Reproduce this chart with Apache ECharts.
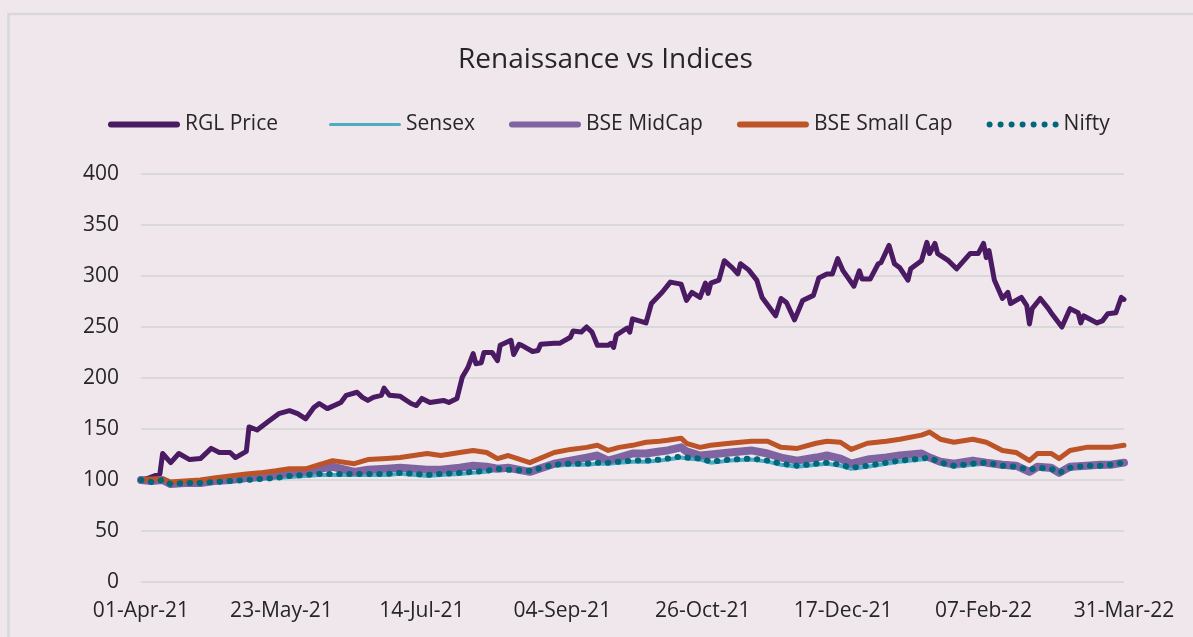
<!DOCTYPE html>
<html>
<head>
<meta charset="utf-8">
<script src="https://cdn.jsdelivr.net/npm/echarts@6/dist/echarts.min.js"></script>
<style>
  html, body { margin: 0; padding: 0; background: #f0e7ec; }
  #main { width: 1193px; height: 637px; }
</style>
</head>
<body>
<div id="main"></div>
<script>
// x tick labels, one every 52 days from 01-Apr-21
const xTickLabels = ['01-Apr-21', '23-May-21', '14-Jul-21', '04-Sep-21', '26-Oct-21', '17-Dec-21', '07-Feb-22', '31-Mar-22'];

// RGL price (days since 01-Apr-21)
const rglDays = [0, 3, 7, 8, 11, 14, 18, 22, 26, 29, 33, 35, 39, 40, 43, 47, 51, 55, 58, 61,
  64, 66, 69, 74, 76, 80, 82, 84, 86, 89, 90, 92, 96, 100, 102, 104, 107, 112, 114, 117,
  119, 121, 123, 124, 126, 127, 130, 132, 133, 137, 138, 140, 141, 145, 147, 148, 153, 155, 159, 160,
  163, 165, 167, 169, 173, 174, 175, 176, 180, 181, 182, 187, 189, 193, 196, 200, 202, 204, 207, 209,
  210, 211, 214, 216, 219, 221, 222, 225, 228, 230, 235, 237, 239, 242, 245, 249, 251, 254, 256, 258,
  260, 264, 266, 267, 270, 273, 274, 277, 279, 281, 284, 285, 289, 291, 292, 294, 295, 299, 302, 307,
  310, 312, 313, 314, 316, 319, 321, 322, 326, 328, 329, 330, 333, 336, 337, 341, 344, 347, 348, 349,
  354, 356, 358, 361, 363, 364];
const rglPrice = [100, 102, 106, 126, 117, 126, 120, 121, 131, 127, 127, 122, 128, 152, 149, 157, 165, 168, 165, 160,
  171, 175, 170, 176, 183, 186, 181, 178, 181, 183, 190, 183, 182, 175, 173, 180, 176, 178, 176, 180,
  201, 210, 224, 214, 215, 225, 225, 217, 232, 237, 223, 233, 232, 226, 227, 233, 234, 234, 240, 246,
  245, 250, 245, 232, 232, 234, 230, 242, 249, 245, 258, 254, 273, 284, 294, 292, 276, 284, 279, 293,
  283, 293, 296, 315, 308, 302, 312, 306, 296, 279, 261, 278, 274, 257, 276, 281, 298, 302, 302, 317,
  305, 290, 305, 297, 297, 312, 313, 330, 312, 308, 296, 307, 315, 333, 322, 332, 322, 315, 307, 322,
  322, 332, 318, 325, 296, 278, 284, 273, 279, 271, 253, 268, 278, 268, 264, 250, 268, 264, 254, 261,
  254, 256, 263, 264, 279, 277];

// indices (days since 01-Apr-21)
const idxDays = [0, 4, 8, 11, 16, 22, 27, 33, 39, 44, 50, 55, 61, 66, 71, 79, 84, 91, 96, 106,
  111, 118, 123, 128, 132, 136, 144, 153, 159, 165, 169, 173, 177, 182, 187, 192, 195, 200, 202, 207,
  211, 218, 226, 232, 237, 243, 250, 254, 259, 263, 269, 276, 281, 289, 292, 296, 301, 308, 313, 319,
  324, 329, 332, 337, 340, 344, 350, 355, 359, 364];
const sensex = [100, 98, 99, 96, 97, 97, 98, 99, 100, 101, 102, 103, 104, 105, 105, 105, 105, 105, 106, 104,
  105, 106, 107, 108, 110, 110, 109, 114, 115, 115, 116, 116, 117, 118, 118, 119, 120, 122, 121, 120,
  117, 119, 120, 118, 115, 113, 115, 116, 114, 111, 113, 116, 118, 120, 121, 116, 113, 115, 116, 113,
  112, 109, 111, 110, 106, 111, 113, 113, 114, 116];
const midCap = [100, 99, 100, 96, 97, 97, 99, 100, 102, 103, 105, 107, 108, 111, 113, 108, 110, 111, 112, 110,
  110, 112, 114, 113, 111, 112, 108, 116, 119, 122, 124, 119, 122, 126, 126, 128, 129, 132, 128, 124,
  125, 127, 129, 126, 122, 119, 122, 124, 121, 116, 120, 122, 124, 126, 122, 118, 116, 119, 117, 115,
  114, 108, 113, 112, 107, 113, 114, 115, 115, 117];
const smallCap = [100, 101, 101, 98, 99, 100, 102, 104, 106, 107, 109, 111, 111, 115, 119, 116, 120, 121, 122, 126,
  124, 127, 129, 127, 121, 124, 117, 127, 130, 132, 134, 129, 132, 134, 137, 138, 139, 141, 136, 132,
  134, 136, 138, 138, 132, 131, 136, 138, 137, 130, 136, 138, 140, 144, 147, 140, 137, 140, 137, 129,
  127, 119, 126, 126, 121, 129, 132, 132, 132, 134];
const nifty = [100, 98, 100, 96, 97, 97, 98, 99, 100, 101, 102, 104, 105, 106, 106, 106, 106, 106, 107, 105,
  106, 107, 108, 109, 111, 110, 109, 115, 116, 116, 117, 117, 118, 119, 119, 120, 121, 123, 122, 121,
  118, 120, 121, 119, 116, 114, 116, 117, 115, 112, 114, 117, 119, 121, 122, 117, 114, 116, 117, 114,
  113, 110, 112, 111, 107, 112, 114, 114, 115, 117];

const pairs = (days, vals) => days.map((d, i) => [d, vals[i]]);
const font = '"Open Sans", sans-serif';

// legend icons: rounded bars, and a row of dots for Nifty
const barIcon = 'path://M3,0 H69 A3,3 0 0,1 69,6 H3 A3,3 0 0,1 3,0 Z';
const thinIcon = 'path://M0,0 L0.01,0 L0,0.01 Z M1.5,1.5 H70.5 A1.5,1.5 0 0,1 70.5,4.5 H1.5 A1.5,1.5 0 0,1 1.5,1.5 Z M0,6 L0.01,6 L0,5.99 Z';
let dots = '';
for (let k = 0; k < 7; k++) {
  const cx = 3 + k * 11;
  dots += 'M' + (cx - 3) + ',3 A3,3 0 1,1 ' + (cx + 3) + ',3 A3,3 0 1,1 ' + (cx - 3) + ',3 Z ';
}
const dotIcon = 'path://' + dots;

const legendBase = {
  top: 109,
  itemWidth: 72,
  itemHeight: 6,
  itemGap: 34,
  textStyle: { fontFamily: font, fontSize: 21, color: '#262626' }
};

const chart = echarts.init(document.getElementById('main'));
chart.setOption({
  backgroundColor: '#f0e7ec',
  animation: false,
  textStyle: { fontFamily: font },
  title: {
    text: 'Renaissance vs Indices',
    left: 453,
    top: 41,
    textStyle: { fontFamily: font, fontSize: 28, fontWeight: 'normal', color: '#262626' }
  },
  graphic: [{
    type: 'rect',
    shape: { x: 8.5, y: 14, width: 1300, height: 700 },
    style: { fill: 'none', stroke: '#d8d8d8', lineWidth: 2.5 },
    silent: true
  }],
  legend: [
    Object.assign({}, legendBase, {
      left: 103,
      data: [{ name: 'RGL Price', icon: barIcon }]
    }),
    Object.assign({}, legendBase, {
      left: 324,
      data: [
        { name: 'Sensex', icon: thinIcon },
        { name: 'BSE MidCap', icon: barIcon },
        { name: 'BSE Small Cap', icon: barIcon },
        { name: 'Nifty', icon: dotIcon }
      ]
    })
  ],
  grid: { left: 141, right: 69, top: 174, bottom: 55 },
  xAxis: {
    type: 'value',
    min: 0,
    max: 364,
    interval: 52,
    axisLine: { show: false },
    axisTick: { show: false },
    splitLine: { show: false },
    axisLabel: {
      margin: 19,
      fontSize: 21,
      color: '#262626',
      fontFamily: font,
      formatter: v => xTickLabels[Math.round(v / 52)]
    }
  },
  yAxis: {
    type: 'value',
    min: 0,
    max: 400,
    interval: 50,
    axisLine: { show: false },
    axisTick: { show: false },
    splitLine: { lineStyle: { color: '#d9d9d9', width: 2 } },
    axisLabel: { margin: 22, fontSize: 21, color: '#262626', fontFamily: font }
  },
  series: [
    {
      name: 'RGL Price', type: 'line', symbol: 'none', data: pairs(rglDays, rglPrice),
      itemStyle: { color: '#4a1a62' },
      lineStyle: { color: '#4a1a62', width: 5, cap: 'round', join: 'round' }
    },
    {
      name: 'Sensex', type: 'line', symbol: 'none', data: pairs(idxDays, sensex),
      itemStyle: { color: '#4bacc6' },
      lineStyle: { color: '#4bacc6', width: 4, cap: 'round', join: 'round' }
    },
    {
      name: 'BSE MidCap', type: 'line', symbol: 'none', data: pairs(idxDays, midCap),
      itemStyle: { color: '#8064a2' },
      lineStyle: { color: '#8064a2', width: 8, cap: 'round', join: 'round' }
    },
    {
      name: 'BSE Small Cap', type: 'line', symbol: 'none', data: pairs(idxDays, smallCap),
      itemStyle: { color: '#bc5427' },
      lineStyle: { color: '#bc5427', width: 5, cap: 'round', join: 'round' }
    },
    {
      name: 'Nifty', type: 'line', symbol: 'none', data: pairs(idxDays, nifty),
      itemStyle: { color: '#00687a' },
      lineStyle: { color: '#00687a', width: 6, type: [0.5, 9.5], cap: 'round', join: 'round' }
    }
  ]
});
</script>
</body>
</html>
